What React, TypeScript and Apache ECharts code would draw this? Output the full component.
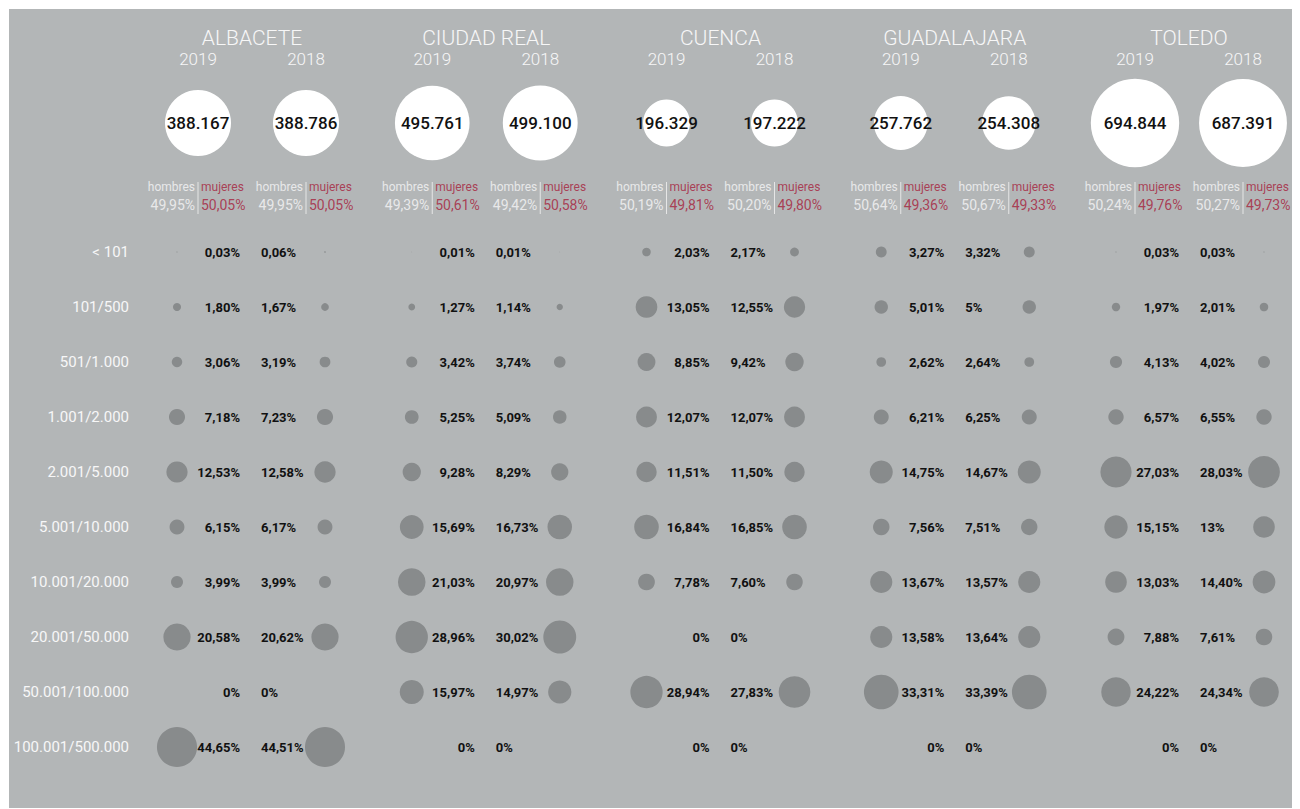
import React, { useEffect, useRef } from "react";
import * as echarts from "echarts";

const PROVINCES = ["ALBACETE", "CIUDAD REAL", "CUENCA", "GUADALAJARA", "TOLEDO"];
const YEARS = ["2019", "2018"];
const RANGES = [
  "< 101",
  "101/500",
  "501/1.000",
  "1.001/2.000",
  "2.001/5.000",
  "5.001/10.000",
  "10.001/20.000",
  "20.001/50.000",
  "50.001/100.000",
  "100.001/500.000",
];

const TOTAL_2019 = [388167, 495761, 196329, 257762, 694844];
const TOTAL_2018 = [388786, 499100, 197222, 254308, 687391];
const MEN_2019 = [49.95, 49.39, 50.19, 50.64, 50.24];
const WOMEN_2019 = [50.05, 50.61, 49.81, 49.36, 49.76];
const MEN_2018 = [49.95, 49.42, 50.2, 50.67, 50.27];
const WOMEN_2018 = [50.05, 50.58, 49.8, 49.33, 49.73];

const ALBACETE_2019 = [0.03, 1.8, 3.06, 7.18, 12.53, 6.15, 3.99, 20.58, 0, 44.65];
const ALBACETE_2018 = [0.06, 1.67, 3.19, 7.23, 12.58, 6.17, 3.99, 20.62, 0, 44.51];
const CIUDAD_REAL_2019 = [0.01, 1.27, 3.42, 5.25, 9.28, 15.69, 21.03, 28.96, 15.97, 0];
const CIUDAD_REAL_2018 = [0.01, 1.14, 3.74, 5.09, 8.29, 16.73, 20.97, 30.02, 14.97, 0];
const CUENCA_2019 = [2.03, 13.05, 8.85, 12.07, 11.51, 16.84, 7.78, 0, 28.94, 0];
const CUENCA_2018 = [2.17, 12.55, 9.42, 12.07, 11.5, 16.85, 7.6, 0, 27.83, 0];
const GUADALAJARA_2019 = [3.27, 5.01, 2.62, 6.21, 14.75, 7.56, 13.67, 13.58, 33.31, 0];
const GUADALAJARA_2018 = [3.32, 5, 2.64, 6.25, 14.67, 7.51, 13.57, 13.64, 33.39, 0];
const TOLEDO_2019 = [0.03, 1.97, 4.13, 6.57, 27.03, 15.15, 13.03, 7.88, 24.22, 0];
const TOLEDO_2018 = [0.03, 2.01, 4.02, 6.55, 28.03, 13, 14.4, 7.61, 24.34, 0];

const SHARE_2019 = [ALBACETE_2019, CIUDAD_REAL_2019, CUENCA_2019, GUADALAJARA_2019, TOLEDO_2019];
const SHARE_2018 = [ALBACETE_2018, CIUDAD_REAL_2018, CUENCA_2018, GUADALAJARA_2018, TOLEDO_2018];

const FONT = "Roboto, 'Liberation Sans', sans-serif";
const BG = "#b3b6b7";
const DOT = "#888b8c";
const WHITE = "#f7f7f7";
const RED = "#a6213b";

const pct = (v: number) => (v % 1 === 0 ? `${v}%` : `${v.toFixed(2).replace(".", ",")}%`);
const thousands = (v: number) => String(v).replace(/\B(?=(\d{3})+(?!\d))/g, ".");

function buildOption() {
  const grid: any[] = [];
  const xAxis: any[] = [];
  const yAxis: any[] = [];
  const series: any[] = [];

  // header grids 0..4
  PROVINCES.forEach((name, i) => {
    grid.push({ left: 189 + i * 234.25, width: 108, top: 94, height: 40, outerBoundsMode: "none", containLabel: false });
    xAxis.push({
      type: "category",
      gridIndex: i,
      data: YEARS,
      position: "top",
      boundaryGap: false,
      axisLine: { show: false },
      axisTick: { show: false },
      axisLabel: { margin: 36, color: WHITE, fontSize: 17, fontFamily: FONT, fontWeight: 300 },
      name,
      nameLocation: "middle",
      nameGap: 55,
      nameTextStyle: { color: WHITE, fontSize: 21, fontFamily: FONT, fontWeight: 300 },
    });
    yAxis.push({ type: "category", gridIndex: i, data: ["total"], show: false });
  });

  // dot grids 5..9
  PROVINCES.forEach((_, i) => {
    grid.push({ left: 168 + i * 234.75, width: 148, top: 243, height: 495, outerBoundsMode: "none", containLabel: false });
    xAxis.push({ type: "category", gridIndex: 5 + i, data: YEARS, boundaryGap: false, show: false });
    yAxis.push({
      type: "category",
      gridIndex: 5 + i,
      data: RANGES,
      inverse: true,
      boundaryGap: false,
      show: i === 0,
      axisLine: { show: false },
      axisTick: { show: false },
      splitLine: { show: false },
      axisLabel: { margin: 48, color: WHITE, fontSize: 15, fontFamily: FONT, fontWeight: "normal" },
    });
  });

  PROVINCES.forEach((_, i) => {
    // big total circles
    series.push({
      type: "scatter",
      xAxisIndex: i,
      yAxisIndex: i,
      silent: true,
      data: [
        [0, 0, TOTAL_2019[i]],
        [1, 0, TOTAL_2018[i]],
      ],
      symbolSize: (v: number[]) => 0.106 * Math.sqrt(v[2]),
      itemStyle: { color: "#ffffff", opacity: 1 },
      label: {
        show: true,
        position: "inside",
        formatter: (p: any) => thousands(p.value[2]),
        color: "#111111",
        fontSize: 17,
        fontWeight: 500,
        fontFamily: FONT,
      },
    });
    // separator between hombres / mujeres
    series.push({
      type: "scatter",
      xAxisIndex: i,
      yAxisIndex: i,
      silent: true,
      data: [
        [0, 0],
        [1, 0],
      ],
      symbol: "rect",
      symbolSize: [1, 32],
      symbolOffset: [0, 75],
      itemStyle: { color: "#e6e6e6", opacity: 1 },
    });
    // hombres
    series.push({
      type: "scatter",
      xAxisIndex: i,
      yAxisIndex: i,
      silent: true,
      data: [
        [0, 0, MEN_2019[i]],
        [1, 0, MEN_2018[i]],
      ],
      symbolSize: 1,
      itemStyle: { color: "rgba(0,0,0,0)" },
      label: {
        show: true,
        position: "inside",
        offset: [-3, 73],
        align: "right",
        formatter: (p: any) => `{a|hombres}\n{b|${pct(p.value[2])}}`,
        rich: {
          a: { color: WHITE, fontSize: 12, fontFamily: FONT, lineHeight: 18, align: "right" },
          b: { color: WHITE, fontSize: 14, fontFamily: FONT, lineHeight: 18, align: "right" },
        },
      },
    });
    // mujeres
    series.push({
      type: "scatter",
      xAxisIndex: i,
      yAxisIndex: i,
      silent: true,
      data: [
        [0, 0, WOMEN_2019[i]],
        [1, 0, WOMEN_2018[i]],
      ],
      symbolSize: 1,
      itemStyle: { color: "rgba(0,0,0,0)" },
      label: {
        show: true,
        position: "inside",
        offset: [3, 73],
        align: "left",
        formatter: (p: any) => `{a|mujeres}\n{b|${pct(p.value[2])}}`,
        rich: {
          a: { color: RED, fontSize: 12, fontFamily: FONT, lineHeight: 18, align: "left" },
          b: { color: RED, fontSize: 14, fontFamily: FONT, lineHeight: 18, align: "left" },
        },
      },
    });
    // dots 2019
    series.push({
      type: "scatter",
      xAxisIndex: 5 + i,
      yAxisIndex: 5 + i,
      silent: true,
      data: SHARE_2019[i].map((v, r) => [0, r, v]),
      symbolSize: (v: number[]) => Math.max(0.01, 6 * Math.sqrt(v[2])),
      itemStyle: { color: DOT, opacity: 1 },
      label: {
        show: true,
        position: "inside",
        offset: [63, 0],
        align: "right",
        formatter: (p: any) => pct(p.value[2]),
        color: "#111111",
        fontSize: 13,
        fontWeight: "bold",
        fontFamily: FONT,
      },
    });
    // dots 2018
    series.push({
      type: "scatter",
      xAxisIndex: 5 + i,
      yAxisIndex: 5 + i,
      silent: true,
      data: SHARE_2018[i].map((v, r) => [1, r, v]),
      symbolSize: (v: number[]) => Math.max(0.01, 6 * Math.sqrt(v[2])),
      itemStyle: { color: DOT, opacity: 1 },
      label: {
        show: true,
        position: "inside",
        offset: [-64, 0],
        align: "left",
        formatter: (p: any) => pct(p.value[2]),
        color: "#111111",
        fontSize: 13,
        fontWeight: "bold",
        fontFamily: FONT,
      },
    });
  });

  return {
    animation: false,
    backgroundColor: BG,
    tooltip: { show: false },
    grid,
    xAxis,
    yAxis,
    series,
  };
}

export default function App() {
  const ref = useRef<HTMLDivElement>(null);
  useEffect(() => {
    document.body.style.overflow = "hidden";
    if (!ref.current) return;
    const chart = echarts.init(ref.current, undefined, { renderer: "svg" });
    chart.setOption(buildOption() as any);
    return () => chart.dispose();
  }, []);
  return (
    <div
      ref={ref}
      style={{ position: "relative", left: 1, top: 1, width: 1291, height: 800, background: BG }}
    />
  );
}
